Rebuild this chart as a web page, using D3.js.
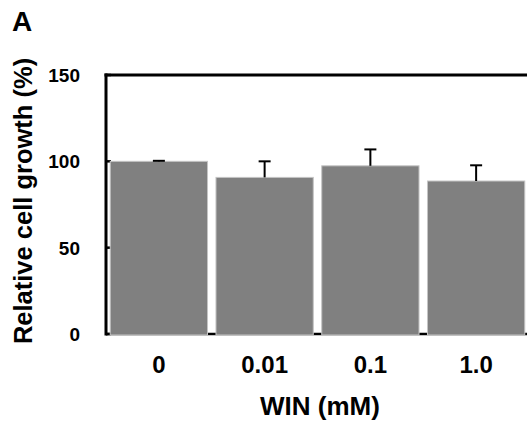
<!DOCTYPE html>
<html>
<head>
<meta charset="utf-8">
<script src="https://cdn.jsdelivr.net/npm/d3@7"></script>
<style>
  body { margin: 0; background: #fff; }
  svg { display: block; font-family: "Liberation Sans", Arial, sans-serif; font-weight: bold; }
</style>
</head>
<body>
<div id="chart"></div>
<script>
// data
var doses = ["0", "0.01", "0.1", "1.0"];
var growth = [100, 90.7, 97.4, 88.6];
var growthErr = [0.3, 9.3, 9.5, 9.1];
var yTicks = [0, 50, 100, 150];

var width = 527, height = 428;
var plotLeft = 106, plotTop = 75, plotBottom = 334, plotRight = 529;

var svg = d3.select("#chart").append("svg")
  .attr("width", width)
  .attr("height", height);

var x = d3.scaleBand()
  .domain(doses)
  .range([plotLeft, plotRight])
  .paddingInner(0.08)
  .paddingOuter(0.04);

var y = d3.scaleLinear()
  .domain([0, 150])
  .range([plotBottom, plotTop]);

// frame: left axis, top line, bottom line
svg.append("line")
  .attr("x1", plotLeft).attr("x2", plotLeft)
  .attr("y1", plotTop - 1.5).attr("y2", plotBottom + 1.5)
  .attr("stroke", "#000").attr("stroke-width", 3);
svg.append("line")
  .attr("x1", plotLeft - 1.5).attr("x2", width + 5)
  .attr("y1", plotTop).attr("y2", plotTop)
  .attr("stroke", "#000").attr("stroke-width", 3);
svg.append("line")
  .attr("x1", plotLeft).attr("x2", width + 5)
  .attr("y1", plotBottom).attr("y2", plotBottom)
  .attr("stroke", "#000").attr("stroke-width", 2.5);

// y ticks point inwards
svg.selectAll(".ytick")
  .data(yTicks)
  .enter()
  .append("line")
  .attr("x1", plotLeft).attr("x2", plotLeft + 5)
  .attr("y1", function(d){ return y(d); })
  .attr("y2", function(d){ return y(d); })
  .attr("stroke", "#000").attr("stroke-width", 2.5);

svg.selectAll(".ylab")
  .data(yTicks)
  .enter()
  .append("text")
  .attr("x", 80)
  .attr("y", function(d){ return y(d); })
  .attr("dy", "0.36em")
  .attr("text-anchor", "end")
  .style("font-size", "19px")
  .text(function(d){ return d; });

// bars
svg.selectAll(".bar")
  .data(doses)
  .enter()
  .append("rect")
  .attr("x", function(d){ return x(d); })
  .attr("y", function(d, i){ return y(growth[i]); })
  .attr("width", x.bandwidth())
  .attr("height", function(d, i){ return y(0) - y(growth[i]) + 1; })
  .attr("fill", "#808080")
  .attr("stroke", "#c4c4c4")
  .attr("stroke-width", 1);

// error bars (upper half only)
var errG = svg.append("g");
doses.forEach(function(d, i){
  var cx = x(d) + x.bandwidth() / 2;
  var yTop = y(growth[i] + growthErr[i]);
  errG.append("line")
    .attr("x1", cx).attr("x2", cx)
    .attr("y1", y(growth[i])).attr("y2", yTop)
    .attr("stroke", "#000").attr("stroke-width", 2);
  errG.append("line")
    .attr("x1", cx - 6).attr("x2", cx + 6)
    .attr("y1", yTop).attr("y2", yTop)
    .attr("stroke", "#000").attr("stroke-width", 2);
});

// x labels
svg.selectAll(".xlab")
  .data(doses)
  .enter()
  .append("text")
  .attr("x", function(d){ return x(d) + x.bandwidth() / 2; })
  .attr("y", 373)
  .attr("text-anchor", "middle")
  .style("font-size", "24px")
  .text(function(d){ return d; });

svg.append("text")
  .attr("x", 320)
  .attr("y", 415)
  .attr("text-anchor", "middle")
  .style("font-size", "26px")
  .text("WIN (mM)");

svg.append("text")
  .attr("transform", "translate(32," + 201 + ") rotate(-90)")
  .attr("text-anchor", "middle")
  .style("font-size", "25.5px")
  .text("Relative cell growth (%)");

svg.append("text")
  .attr("x", 12)
  .attr("y", 31)
  .style("font-size", "28px")
  .text("A");
</script>
</body>
</html>
